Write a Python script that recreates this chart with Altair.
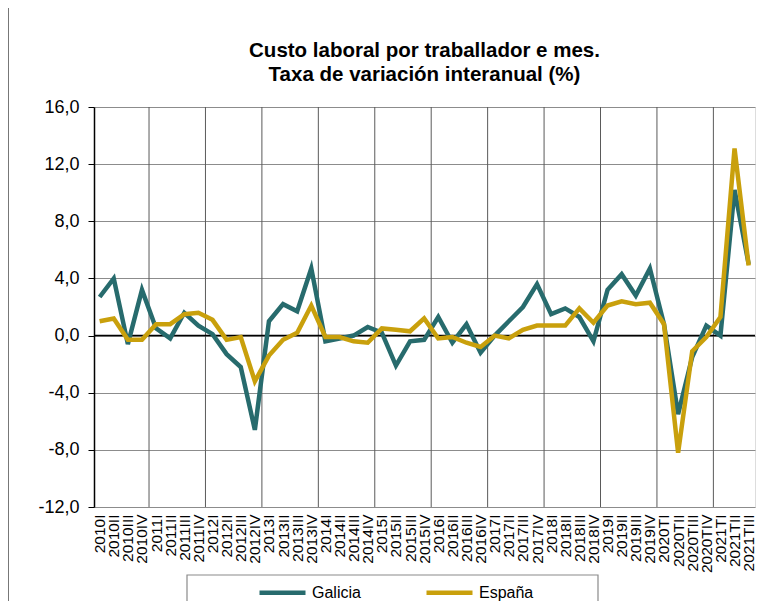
import altair as alt
import pandas as pd

quarters = [
    "2010I", "2010II", "2010III", "2010IV",
    "2011I", "2011II", "2011III", "2011IV",
    "2012I", "2012II", "2012III", "2012IV",
    "2013I", "2013II", "2013III", "2013IV",
    "2014I", "2014II", "2014III", "2014IV",
    "2015I", "2015II", "2015III", "2015IV",
    "2016I", "2016II", "2016III", "2016IV",
    "2017I", "2017II", "2017III", "2017IV",
    "2018I", "2018II", "2018III", "2018IV",
    "2019I", "2019II", "2019III", "2019IV",
    "2020TI", "2020TII", "2020TIII", "2020TIV",
    "2021TI", "2021TII", "2021TIII",
]

galicia = [2.7, 4.0, -0.6, 3.2, 0.5, -0.2, 1.6, 0.7, 0.1, -1.3, -2.2, -6.6,
           1.0, 2.2, 1.7, 4.7, -0.4, -0.2, 0.0, 0.6, 0.2, -2.1, -0.4, -0.3,
           1.3, -0.5, 0.8, -1.2, 0.0, 1.0, 2.0, 3.6, 1.5, 1.9, 1.3, -0.4,
           3.2, 4.3, 2.8, 4.7, 0.8, -5.5, -1.5, 0.7, 0.0, 10.2, 5.0]

espana = [1.0, 1.2, -0.3, -0.3, 0.8, 0.8, 1.5, 1.6, 1.1, -0.3, -0.1, -3.2,
          -1.4, -0.3, 0.2, 2.1, -0.1, -0.1, -0.4, -0.5, 0.5, 0.4, 0.3, 1.2,
          -0.2, -0.1, -0.5, -0.8, 0.0, -0.2, 0.4, 0.7, 0.7, 0.7, 1.9, 0.9,
          2.1, 2.4, 2.2, 2.3, 0.8, -8.2, -1.1, -0.1, 1.3, 13.1, 4.9]

series_names = ["Galicia", "España"]
series_colors = ["#276B6D", "#C9A00C"]
y_ticks = [-12, -8, -4, 0, 4, 8, 12, 16]

rows = []
for i, q in enumerate(quarters):
    rows.append({"i": i, "q": q, "serie": "Galicia", "v": galicia[i], "ord": 0})
    rows.append({"i": i, "q": q, "serie": "España", "v": espana[i], "ord": 1})
df = pd.DataFrame(rows)

year_bounds = pd.DataFrame(
    {"b": [i + 0.5 for i, q in enumerate(quarters[:-1]) if q.endswith("IV")]}
)

FONT = "Liberation Sans"
label_js = "[" + ",".join(f"'{q}'" for q in quarters) + "][datum.value]"

xscale = alt.Scale(domain=[-0.4, len(quarters) - 0.55], nice=False, zero=False)
yscale = alt.Scale(domain=[-12, 16], nice=False)

x_axis = alt.Axis(values=list(range(len(quarters))), labelExpr=label_js,
                  labelAngle=270, labelAlign="right", labelBaseline="middle",
                  labelFontSize=15.5, labelFont=FONT, labelColor="black",
                  labelPadding=7, ticks=False, domain=False, grid=False,
                  title=None, labelOverlap=False, labelBound=False, labelFlush=False)

y_axis = alt.Axis(values=y_ticks,
                  labelExpr="replace(replace(format(datum.value, '.1f'), '.', ','), '\u2212', '-')",
                  labelFontSize=18, labelFont=FONT, labelColor="black",
                  labelPadding=9, tickSize=6, tickColor="black",
                  domainColor="black", domainWidth=1.5,
                  grid=True, gridColor="#8c8c8c", gridWidth=1,
                  title=None, labelOverlap=False)

vgrid = alt.Chart(year_bounds).mark_rule(color="#5a5a5a", strokeWidth=1).encode(
    x=alt.X("b:Q", scale=xscale, axis=x_axis),
)

zero = alt.Chart(pd.DataFrame({"z": [0]})).mark_rule(color="black", strokeWidth=1.5).encode(
    y=alt.Y("z:Q", scale=yscale, axis=y_axis)
)

lines = alt.Chart(df).mark_line(strokeWidth=4.5, strokeJoin="miter").encode(
    x=alt.X("i:Q", scale=xscale, axis=x_axis),
    y=alt.Y("v:Q", scale=yscale, axis=y_axis),
    color=alt.Color("serie:N",
                    scale=alt.Scale(domain=series_names, range=series_colors),
                    legend=alt.Legend(orient="none", legendX=163, legendY=460,
                                      direction="horizontal", title=None,
                                      symbolType="stroke", symbolSize=2116,
                                      symbolStrokeWidth=4.5, labelFontSize=16,
                                      labelFont=FONT, labelColor="black",
                                      labelOffset=4, columnPadding=56, padding=0)),
    order=alt.Order("ord:Q"),
)

legend_box = alt.Chart(pd.DataFrame({"a": [0]})).mark_rect(
    filled=False, stroke="#8a8a8a", strokeWidth=1.2
).encode(
    x=alt.value(93), x2=alt.value(504), y=alt.value(468), y2=alt.value(540)
)

frame = alt.Chart(pd.DataFrame({"a": [0]})).mark_rule(color="#777777", strokeWidth=1).encode(
    x=alt.value(-85.5), y=alt.value(-99), y2=alt.value(510)
)

chart = alt.layer(vgrid, zero, lines, legend_box, frame).properties(
    width=661, height=400,
    title=alt.Title(["Custo laboral por traballador e mes.", "Taxa de variación interanual (%)"],
                    font=FONT, fontSize=20.5, fontWeight="bold", color="black",
                    anchor="middle", lineHeight=24, offset=-78, frame="group"),
    autosize=alt.AutoSizeParams(type="none"),
    padding={"left": 86, "top": 99, "right": 5, "bottom": 94},
).configure_view(
    fill="#F8F4E6", stroke="#9a9a9a", strokeWidth=2
).configure(background="white")

chart.save("out.html", embed_options={"renderer": "svg", "actions": False})
